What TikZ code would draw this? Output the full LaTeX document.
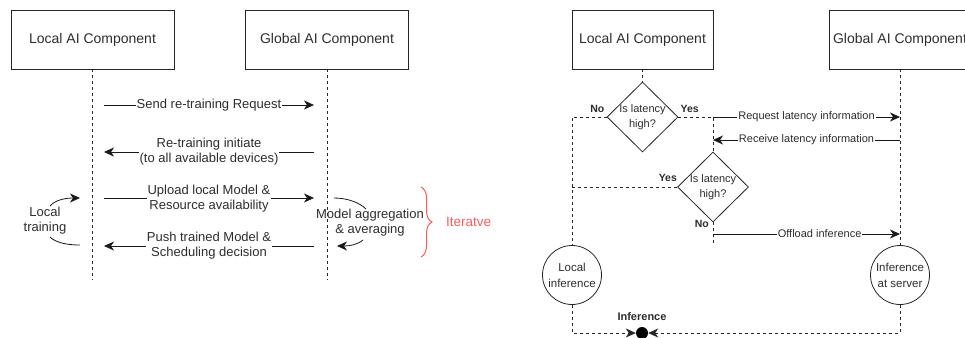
\documentclass[tikz,border=0pt]{standalone}
\usepackage{fontspec}
\setmainfont{Liberation Sans}
\usetikzlibrary{positioning,calc,arrows.meta,shapes.geometric,decorations.pathreplacing}
\definecolor{inkgray}{RGB}{45,45,45}
\definecolor{bracered}{RGB}{255,90,90}
\tikzset{
  comp/.style={draw=black!85,line width=0.8pt,minimum width=163pt,minimum height=59pt,
    inner sep=0pt,text=inkgray,font=\fontsize{14}{16}\selectfont},
  life/.style={draw=black!85,line width=0.8pt,dash pattern=on 3pt off 3pt},
  tip/.style={-{Stealth[length=10pt,width=9pt,inset=3pt]}},
  msg/.style={draw=black!90,line width=0.8pt,tip},
  plainline/.style={draw=black!90,line width=0.8pt},
  msgtxt/.style={fill=white,inner xsep=1pt,inner ysep=0pt,align=center,text=inkgray,
    font=\fontsize{13}{15}\selectfont},
  smalltxt/.style={fill=white,inner xsep=1pt,inner ysep=0pt,text=inkgray,
    font=\fontsize{11}{14}\selectfont},
  decide/.style={diamond,draw=black!85,line width=0.8pt,minimum width=71pt,minimum height=70pt,
    inner sep=0pt,aspect=1},
  endst/.style={circle,draw=black!85,line width=0.8pt,minimum size=59pt,inner sep=0pt,
    align=center,text=inkgray,font=\fontsize{11.5}{16}\selectfont},
  yn/.style={inner sep=0pt,text=inkgray,font=\bfseries\fontsize{10.5}{12}\selectfont},
}
\begin{document}
\begin{tikzpicture}[x=1pt,y=-1pt]
  \clip (0,0) rectangle (965,337);
  % --- left: re-training sequence
  \node[comp] (loc) at (92.5,39.5) {Local AI Component};
  \node[comp] (glob) at (327,39.5) {Global AI Component};
  \coordinate (locend) at (92.5,280);
  \coordinate (globend) at (327,280);
  \draw[life] (loc.south) -- (locend);
  \draw[life] (glob.south) -- (globend);
  \foreach \n/\y in {a/105,b/152,c/198,d/246}{
    \coordinate (l\n) at (104,\y);
    \coordinate (r\n) at (314,\y);
  }
  \draw[msg] (la) -- node[msgtxt]{Send re-training Request} (ra);
  \draw[msg] (rb) -- node[msgtxt]{Re-training initiate\\(to all available devices)} (lb);
  \draw[msg] (lc) -- node[msgtxt,yshift=-1pt]{Upload local Model \&\\Resource availability} (rc);
  \draw[msg] (rd) -- node[msgtxt]{Push trained Model \&\\Scheduling decision} (ld);
  % local training loop
  \node[msgtxt,fill=none] (ltrain) at (45,221) {Local\\training};
  \coordinate (lt1) at (50,206); \coordinate (lt2) at (80,198);
  \coordinate (lt3) at (50,237); \coordinate (lt4) at (80,245);
  \draw[msg] (lt1) .. controls +(6,-7) and +(-12,0) .. (lt2);
  \draw[plainline] (lt3) .. controls +(6,6) and +(-12,0) .. (lt4);
  % aggregation loop
  \node[msgtxt,fill=none] (magg) at (370,223) {Model aggregation\\\& averaging};
  \coordinate (ma1) at (334,198); \coordinate (ma2) at (366,209);
  \coordinate (ma3) at (363,240); \coordinate (ma4) at (337,246);
  \draw[plainline] (ma1) .. controls +(14,0) and +(-6,-6) .. (ma2);
  \draw[msg] (ma3) .. controls +(-6,5) and +(12,0) .. (ma4);
  % iteration brace
  \coordinate (brtop) at (421,187); \coordinate (brbot) at (421,257);
  \draw[bracered,line width=1pt,decorate,decoration={brace,amplitude=11pt}] (brtop) -- (brbot);
  \node[anchor=west,inner sep=0pt,text=bracered,font=\fontsize{13.5}{15}\selectfont] (iter) at (446,222) {Iteratve};
  % --- right: inference offloading
  \node[comp,minimum width=141pt] (rloc) at (642.5,39.5) {Local AI Component};
  \node[comp,minimum width=141pt] (rglob) at (900,39.5) {Global AI Component};
  \node[decide,label={[align=center,text=inkgray,font=\fontsize{11}{15}\selectfont]center:Is latency\\high?}] (q1) at (642.5,117) {};
  \node[decide,label={[align=center,text=inkgray,font=\fontsize{11}{15}\selectfont]center:Is latency\\high?}] (q2) at (713,187) {};
  \node[endst] (linf) at (572,275) {Local\\inference};
  \node[endst] (sinf) at (900,275) {Inference\\at server};
  \node[circle,fill=black,minimum size=12pt,inner sep=0pt] (inf) at (642,333) {};
  \node[yn,font=\bfseries\fontsize{11}{12}\selectfont] (inflab) at (642,317) {Inference};
  \node[yn,anchor=south east] (no1) at ($(q1.west)+(-2,-4)$) {No};
  \node[yn,anchor=south west] (yes1) at ($(q1.east)+(2,-4)$) {Yes};
  \node[yn,anchor=south east] (yes2) at ($(q2.west)+(0,-5)$) {Yes};
  \node[yn,anchor=east] (no2) at ($(q2.south)+(-4,2)$) {No};
  \coordinate (q2end) at (713,245);
  \draw[life] (rloc.south) -- (q1.north);
  \draw[life] (q1.west) -| (linf.north);
  \draw[life] (q1.east) -| (q2.north);
  \draw[life] (q2.west) -- (q2.west -| linf.north);
  \draw[life] (q2.south) -- (q2end);
  \draw[life] (rglob.south) -- (sinf.north);
  \draw[life,tip] (linf.south) |- (inf.west);
  \draw[life,tip] (sinf.south) |- (inf.east);
  % messages to the server
  \coordinate (rcv) at (900,140);
  \coordinate (off) at (713,234);
  \draw[msg] (q1.east -| q2.north) -- node[smalltxt]{Request latency information} (q1.east -| sinf.north);
  \draw[msg] (rcv) -- node[smalltxt]{Receive latency information} (rcv -| q2.north);
  \draw[msg] (off) -- node[smalltxt,pos=.57]{Offload inference} (off -| sinf.north);
\end{tikzpicture}
\end{document}
